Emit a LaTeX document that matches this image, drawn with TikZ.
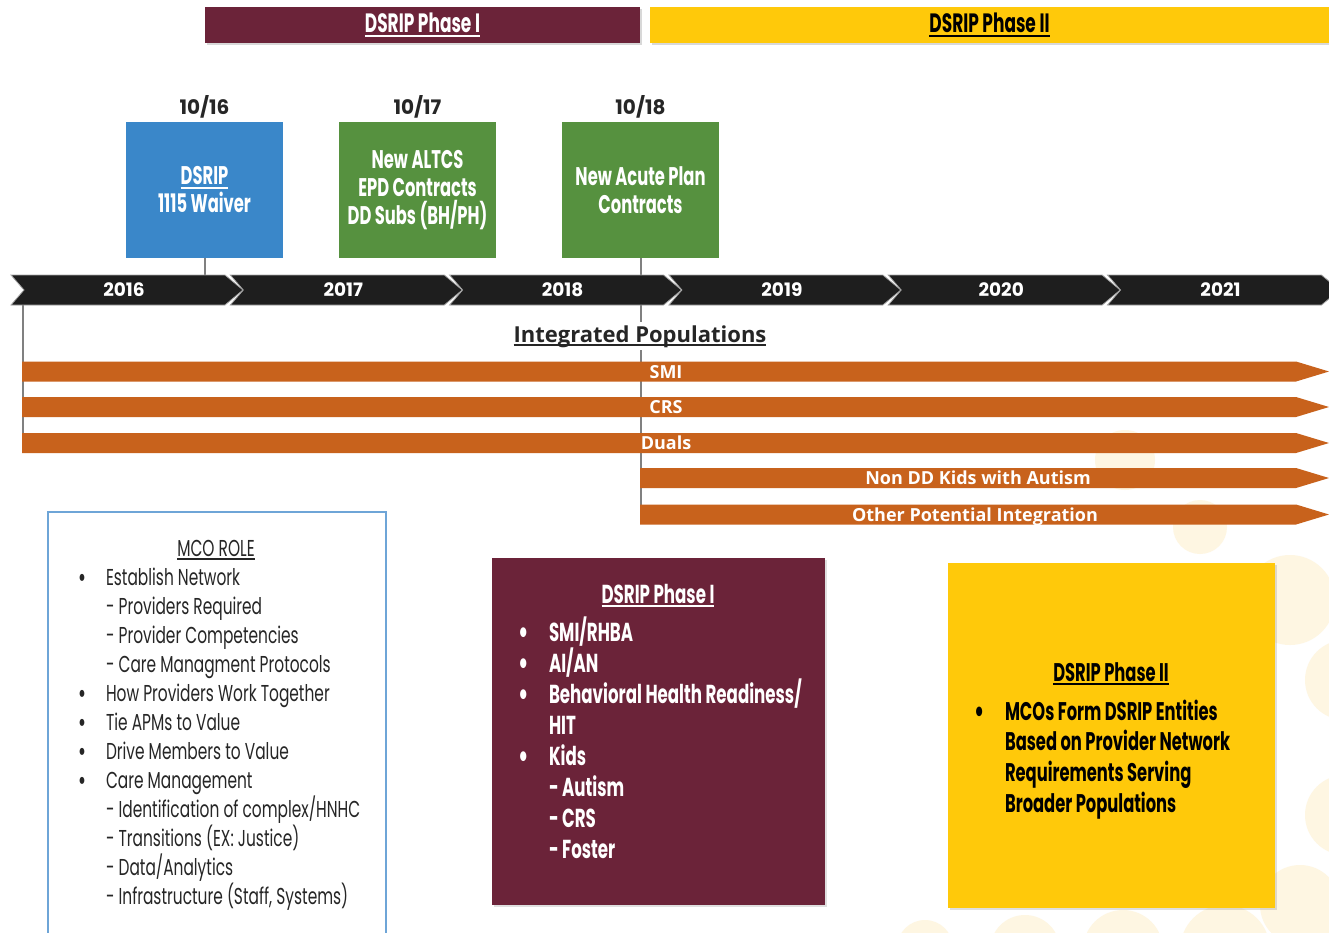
\documentclass[tikz,border=0pt]{standalone}
\usepackage{fontspec}
\setmainfont{Poppins}
\newfontfamily\condfont[FakeStretch=0.67]{Poppins}
\newfontfamily\condbold[FakeStretch=0.64]{Poppins}
\newfontfamily\opensans{Open Sans}
\usetikzlibrary{positioning,shadows}

\definecolor{phaseone}{RGB}{107,35,57}
\definecolor{phasetwo}{RGB}{255,201,10}
\definecolor{waiverblue}{RGB}{58,135,201}
\definecolor{contractgreen}{RGB}{86,145,63}
\definecolor{popsorange}{RGB}{200,98,28}
\definecolor{tlblack}{RGB}{30,30,30}
\definecolor{linkgray}{RGB}{128,128,128}
\definecolor{mcoblue}{RGB}{110,165,215}
\definecolor{dotyellow}{RGB}{254,246,226}

\newcommand\itemdot{\llap{\smash{\raisebox{-2.5pt}{\scalebox{1.25}{\textbullet}}}\hspace{20pt}}}
\newcommand\ulined[1]{\setbox0\hbox{#1}\rlap{\raisebox{-4pt}{\rule{\wd0}{1.6pt}}}\box0}

\begin{document}
\begin{tikzpicture}
[x=1pt,y=-1pt,
 every node/.style={inner sep=0pt,outer sep=0pt},
 phasebar/.style={rectangle,minimum height=36pt,font=\condbold\bfseries\fontsize{26.5}{28}\selectfont,
   drop shadow={shadow xshift=1.5pt,shadow yshift=-1.5pt,opacity=0.3}},
 event/.style={rectangle,minimum width=157pt,minimum height=136pt,align=center,text=white,
   font=\condbold\bfseries\fontsize{25.5}{28}\selectfont},
 datelbl/.style={font=\bfseries\fontsize{20}{22}\selectfont,text=black!85},
 yearlbl/.style={anchor=base,font=\bfseries\fontsize{18.5}{20}\selectfont,text=white},
 link/.style={draw=linkgray,line width=2pt},
 poptitle/.style={anchor=base,font=\opensans\bfseries\fontsize{22}{24}\selectfont,text=black!85,
   fill=white,inner ysep=3pt},
 poplbl/.style={anchor=base,font=\opensans\bfseries\fontsize{18}{20}\selectfont,text=white},
 phasebox/.style={rectangle,drop shadow={shadow xshift=2pt,shadow yshift=-2pt,opacity=0.25}},
 mcotext/.style={anchor=base west,font=\condfont\fontsize{23}{26}\selectfont,text=black!85},
 oneitem/.style={anchor=base west,font=\condbold\bfseries\fontsize{26}{29}\selectfont,text=white},
 twoitem/.style={anchor=base west,font=\condbold\bfseries\fontsize{25.5}{28}\selectfont,text=black},
 bgdot/.style={fill=dotyellow,draw=none}]
\useasboundingbox (0,0) rectangle (1329,932);
\fill[white] (0,0) rectangle (1329,932);

% faint circles in the background
\foreach \cx/\cy/\r in {1125/460/30, 1200/527/27, 1290/600/45, 1345/680/40, 1345/815/40,
                        1300/905/40, 925/948/28, 1025/950/35, 1123/950/40, 1225/950/45}
  \fill[bgdot] (\cx,\cy) circle[radius=\r pt];

% phase bars
\node[phasebar,fill=phaseone,minimum width=435pt,text=white] (p1bar) at (422.5,25) {\ulined{DSRIP Phase I}};
\node[phasebar,fill=phasetwo,minimum width=679pt] (p2bar) at (989.5,25) {\ulined{DSRIP Phase II}};

% events
\node[event,fill=waiverblue]    (waiver) at (204.5,190)              {\ulined{DSRIP}\\1115 Waiver};
\node[event,fill=contractgreen] (altcs)  [on grid,right=213pt of waiver] {New ALTCS\\EPD Contracts\\DD Subs (BH/PH)};
\node[event,fill=contractgreen] (acute)  [on grid,right=223pt of altcs]  {New Acute Plan\\Contracts};
\node[datelbl] (d16) [on grid,above=83pt of waiver] {10/16};
\node[datelbl] (d17) [on grid,above=83pt of altcs]  {10/17};
\node[datelbl] (d18) [on grid,above=83pt of acute]  {10/18};

\coordinate (waiverpin) at (204.5,290);
\coordinate (popsend)   at (640.5,523);
\coordinate (leftstart) at (23,300);
\coordinate (leftend)   at (23,443);
\path[link] (waiver.south) -- (waiverpin);
\path[link] (acute.south)  -- (popsend);
\path[link] (leftstart)    -- (leftend);

% timeline
\foreach \yr [count=\i from 0] in {2016,...,2021} {
  \pgfmathsetmacro\xs{11+219.3*\i}
  \fill[tlblack,draw=gray!70,line width=0.8pt] (\xs,275) -- ++(214,0) -- ++(18,15) -- ++(-18,15) -- ++(-214,0) -- ++(13,-15) -- cycle;
  \node[yearlbl] (y\yr) at (\xs+113,296.5) {\yr};
}

\node[poptitle] (pops) at (640,342) {\ulined{Integrated Populations}};

% population arrows
\foreach \yc/\xl/\xt/\lbl/\nm in {371.5/22/666/SMI/smi, 407/22/666/CRS/crs, 443/22/666/Duals/duals,
                                  478/640/978/Non DD Kids with Autism/autism,
                                  514.5/640/975/Other Potential Integration/other} {
  \fill[popsorange] (\xl,\yc-10) -- (1296,\yc-10) -- (1329,\yc) -- (1296,\yc+10) -- (\xl,\yc+10) -- cycle;
  \node[poplbl] (\nm) at (\xt,\yc+6.5) {\lbl};
}

% MCO role
\draw[mcoblue,line width=1.5pt] (48,935) |- (386,512) -- (386,935);
\node[mcotext,anchor=base] (mcohead) at (216,556) {\ulined{MCO ROLE}};
\foreach \t [count=\i] in {\itemdot Establish Network, - Providers Required, - Provider Competencies,
    - Care Managment Protocols, \itemdot How Providers Work Together, \itemdot Tie APMs to Value,
    \itemdot Drive Members to Value, \itemdot Care Management, - Identification of complex/HNHC,
    - Transitions (EX: Justice), - Data/Analytics, {- Infrastructure (Staff, Systems)}}
  \node[mcotext] (mco\i) at (106,{585+29*(\i-1)}) {\t};

% phase I
\node[phasebox,fill=phaseone,minimum width=333pt,minimum height=347pt] (p1box) at (658.5,731.5) {};
\node[oneitem,anchor=base] (p1head) at (658,603) {\ulined{DSRIP Phase I}};
\foreach \t [count=\i] in {\itemdot SMI/RHBA, \itemdot AI/AN, \itemdot Behavioral Health Readiness/, HIT,
    \itemdot Kids, - Autism, - CRS, - Foster}
  \node[oneitem] (one\i) at (549,{641+31*(\i-1)}) {\t};

% phase II
\node[phasebox,fill=phasetwo,minimum width=327pt,minimum height=345pt] (p2box) at (1111.5,735.5) {};
\node[twoitem,anchor=base] (p2head) at (1111,681) {\ulined{DSRIP Phase II}};
\foreach \t [count=\i] in {\itemdot MCOs Form DSRIP Entities, Based on Provider Network,
    Requirements Serving, Broader Populations}
  \node[twoitem] (two\i) at (1005,{720+30.7*(\i-1)}) {\t};
\end{tikzpicture}
\end{document}
